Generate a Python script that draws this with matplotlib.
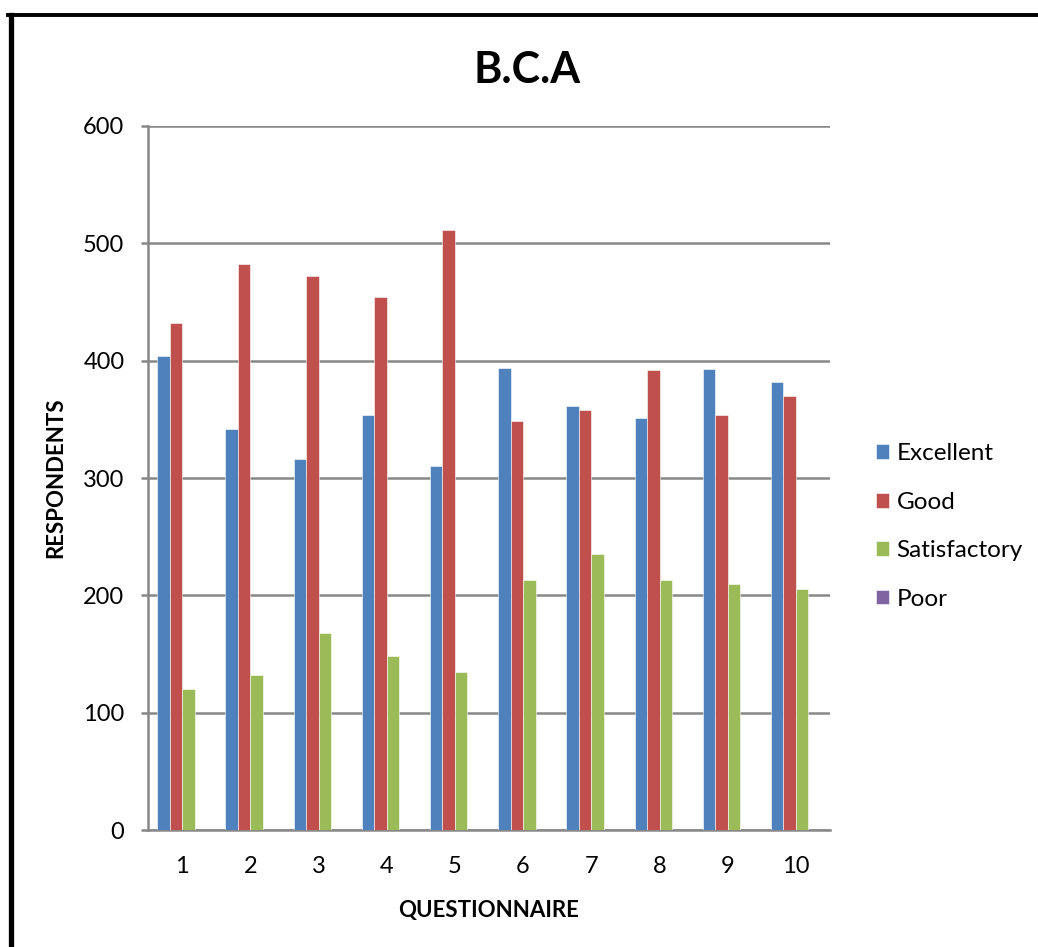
import numpy as np
import matplotlib.pyplot as plt
from matplotlib.lines import Line2D

# Datos
questions = ["1", "2", "3", "4", "5", "6", "7", "8", "9", "10"]
excellent = [404, 342, 316, 354, 310, 394, 361, 351, 393, 382]
good = [432, 482, 472, 454, 511, 349, 358, 392, 354, 370]
satisfactory = [120, 132, 168, 148, 135, 213, 235, 213, 210, 205]
poor = [0, 0, 0, 0, 0, 0, 0, 0, 0, 0]

series = ["Excellent", "Good", "Satisfactory", "Poor"]
colors = ["#4F81BD", "#C0504D", "#9BBB59", "#8064A2"]

plt.rcParams['font.family'] = ['Lato', 'DejaVu Sans']

fig = plt.figure(figsize=(10.38, 9.47), dpi=100)
ax = fig.add_axes([148/1038, 117/947, (830-148)/1038, (830-126)/947])

x = np.arange(1, len(questions) + 1)
w = 0.183
for i, (vals, name, c) in enumerate(zip([excellent, good, satisfactory, poor], series, colors)):
    ax.bar(x + (i - 1.5) * w, vals, width=w, color=c, label=name,
           edgecolor='white', linewidth=0.4, zorder=3)

ax.set_xlim(0.5, 10.5)
ax.set_ylim(0, 600)
ax.set_yticks(range(0, 601, 100))
ax.set_xticks(x)
ax.set_xticklabels(questions)
ax.grid(axis='y', color='#888888', linewidth=1.8, zorder=0)
for s in ['top', 'right']:
    ax.spines[s].set_visible(False)
ax.spines['left'].set_color('#888888')
ax.spines['left'].set_linewidth(1.8)
ax.spines['bottom'].set_color('#888888')
ax.spines['bottom'].set_linewidth(1.8)
ax.tick_params(axis='y', length=5, width=1.8, color='#888888', labelsize=17, pad=12)
ax.tick_params(axis='x', length=0, labelsize=17, pad=19)

ax.set_xlabel("QUESTIONNAIRE", fontsize=16, fontweight='bold', labelpad=16)
ax.set_ylabel("RESPONDENTS", fontsize=16, fontweight='bold', labelpad=12)
fig.text(0.508, 0.926, "B.C.A", ha='center', va='center', fontsize=31, fontweight='bold')

ax.legend(loc='center left', bbox_to_anchor=(1.035, 0.431), frameon=False,
          fontsize=17.5, handlelength=0.55, handleheight=0.55, handletextpad=0.3,
          labelspacing=1.13)

# Marco exterior
fig.add_artist(Line2D([10.5/1038, 10.5/1038], [0, 1 - 15/947], color='black', linewidth=3.8))
fig.add_artist(Line2D([8/1038, 1], [1 - 15.5/947, 1 - 15.5/947], color='black', linewidth=2.8))

fig.savefig("out.png", dpi=100)
